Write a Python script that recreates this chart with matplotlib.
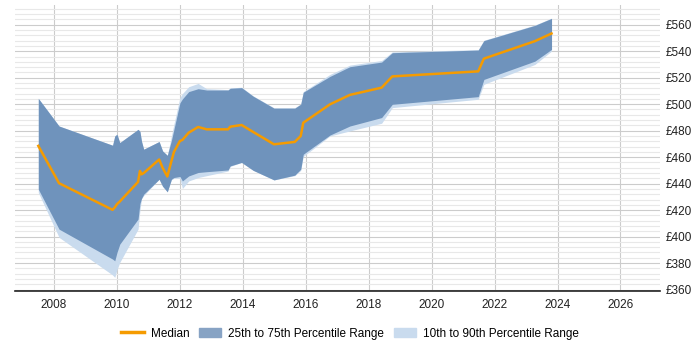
import matplotlib
matplotlib.use('Agg')
import matplotlib.pyplot as plt
from matplotlib.patches import Patch
from matplotlib.lines import Line2D
from matplotlib.ticker import MultipleLocator, FuncFormatter

plt.rcParams['font.family'] = ['Liberation Sans', 'DejaVu Sans']

years = [2007.5, 2008.16, 2009.86, 2009.93, 2010.0, 2010.09, 2010.67, 2010.73, 2010.78,
         2010.85, 2011.34, 2011.45, 2011.6, 2011.73, 2011.81, 2012.0, 2012.08, 2012.28,
         2012.58, 2012.85, 2013.53, 2013.6, 2013.96, 2014.33, 2014.99, 2015.65, 2015.84,
         2015.92, 2016.77, 2017.4, 2018.41, 2018.75, 2021.48, 2021.66, 2023.28, 2023.81]

median = [468.5, 440.3, 420.2, 422, 424.5, 426.5, 441.3, 449.6, 447, 448, 458.2, 452,
          445.4, 457, 463.9, 472.2, 473, 478.5, 482.8, 481, 481, 483, 484.3, 479, 469.7,
          471.5, 476, 486, 499.9, 507, 512.5, 521, 524.8, 534.4, 547.6, 553.4]

p75 = [504.4, 483.5, 469, 476, 477.3, 471, 481, 479.5, 472, 466, 471.8, 464.7, 461.4,
       472.6, 481, 501, 504, 509.5, 511.7, 510.7, 510.7, 512, 512.5, 506, 497, 497, 500,
       509, 521, 528.3, 531.8, 538.9, 540.9, 548, 559.5, 564.8]

p25 = [435.8, 405.6, 383, 381.7, 388, 394.3, 413.2, 425, 428.8, 432, 443.3, 438, 433.8,
       443.3, 444.6, 445.4, 442, 445.8, 448.4, 449, 450.3, 453.4, 456, 450, 442.8, 446.4,
       450.9, 462.2, 476.7, 483.5, 489.9, 499.9, 505.7, 518.7, 532.5, 541.4]

p90 = [504.4, 483.5, 469, 476, 477.3, 471, 481, 479.5, 472, 466, 471.8, 464.7, 461.4,
       476, 485, 505, 508, 513.2, 515.7, 511.7, 511, 512.3, 512.8, 506.3, 497.3, 497.3,
       500.3, 509.5, 522.5, 529.5, 533, 539.5, 541.2, 548.3, 559.8, 565]

p10 = [433.3, 399.4, 371, 369.2, 375, 380.5, 405.6, 420, 428.5, 431, 443.3, 438, 433.8,
       443, 444, 444, 436.3, 442, 444.6, 446, 449.5, 453, 456, 450, 442.8, 446, 450,
       460.5, 476, 479.8, 485.6, 497.4, 503.7, 515, 530, 540.1]

fig = plt.figure(figsize=(7, 3.5), dpi=100)
ax = fig.add_axes([0.021, 0.169, 0.922, 0.817])

light = '#c9dbee'
dark = '#6f93bc'
orange = '#f59b00'

# outer band first, inner band and median on top
ax.fill_between(years, p10, p90, color=light, lw=0)
ax.fill_between(years, p25, p75, color=dark, lw=0)
ax.plot(years, median, color=orange, lw=1.8)

ax.set_xlim(2006.75, 2027.26)
ax.set_ylim(359, 575)

ax.xaxis.set_major_locator(MultipleLocator(2))
ax.yaxis.set_major_locator(MultipleLocator(20))
ax.yaxis.set_minor_locator(MultipleLocator(4))
ax.yaxis.set_major_formatter(FuncFormatter(lambda v, p: f'£{v:.0f}'))
ax.yaxis.tick_right()

ax.grid(which='major', axis='both', color='#cccccc', lw=0.8)
ax.grid(which='minor', axis='y', color='#e8e8e8', lw=0.8)
ax.set_axisbelow(True)

for s in ['top', 'left', 'right']:
    ax.spines[s].set_visible(False)
ax.spines['bottom'].set_color('#222222')
ax.spines['bottom'].set_linewidth(1.2)

ax.tick_params(axis='both', which='both', length=0, labelsize=8.5, colors='#222222')
ax.tick_params(axis='x', pad=6)
ax.tick_params(axis='y', pad=4)

handles = [Line2D([], [], color=orange, lw=2.5),
           Patch(color='#87a3c4'),
           Patch(color=light)]
labels = ['Median', '25th to 75th Percentile Range', '10th to 90th Percentile Range']
fig.legend(handles, labels, loc='center', bbox_to_anchor=(0.5, 0.047), ncol=3,
           frameon=False, fontsize=8.5, handlelength=1.9, columnspacing=0.8,
           handletextpad=0.6)

fig.savefig('out.png', dpi=100)
